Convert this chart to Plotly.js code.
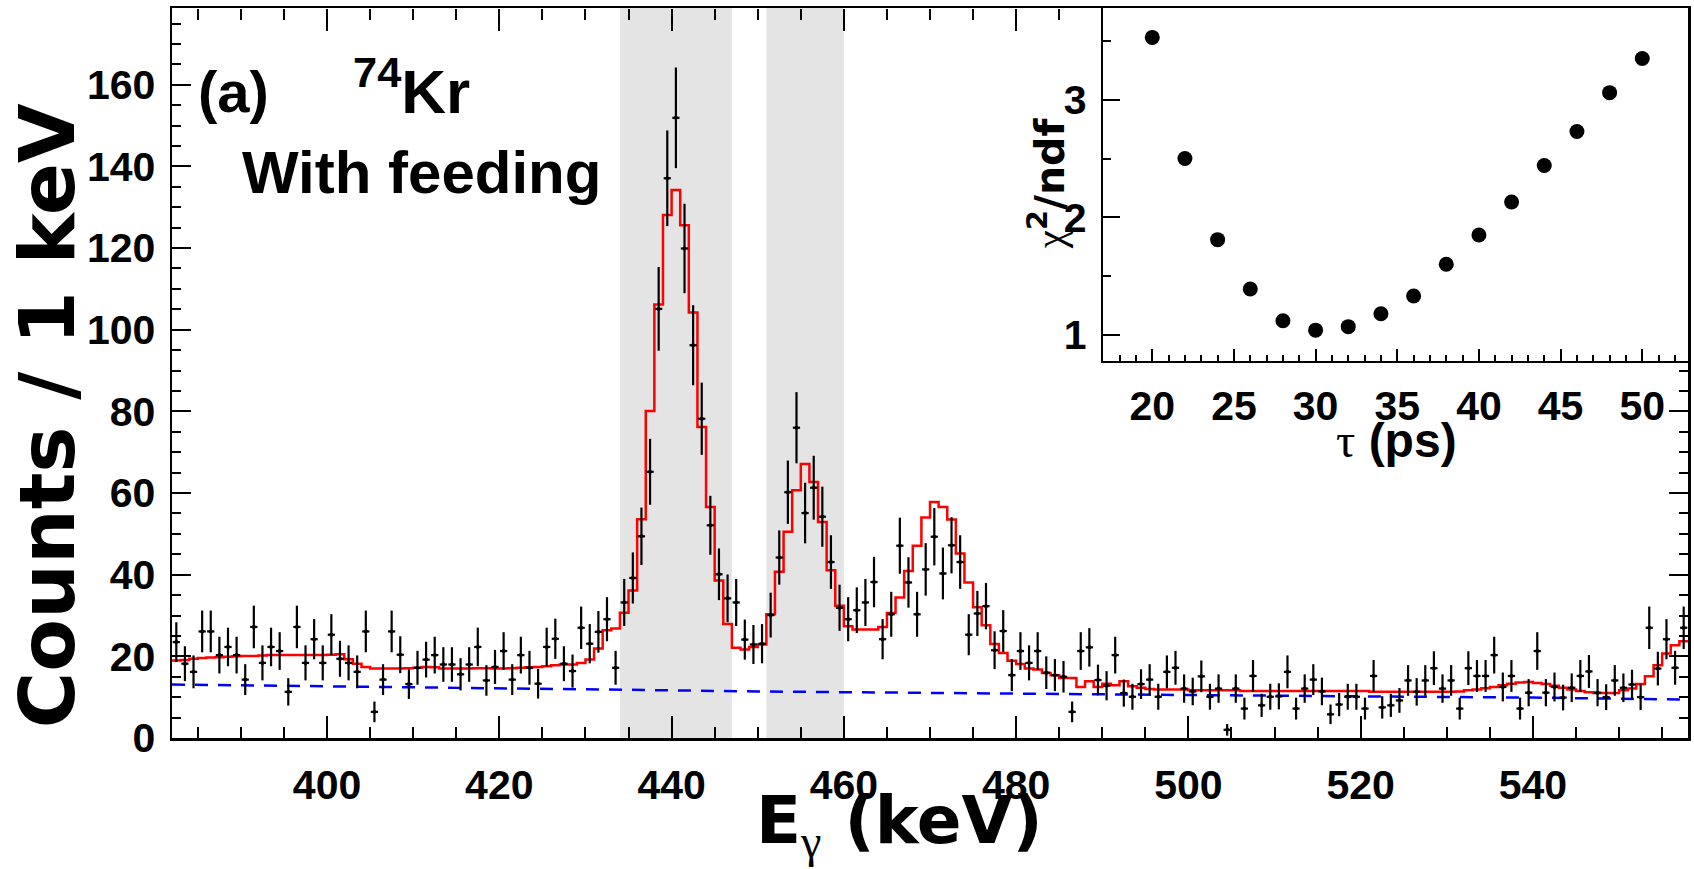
<!DOCTYPE html>
<html>
<head>
<meta charset="utf-8">
<script src="https://cdn.plot.ly/plotly-3.0.1.min.js"></script>
<style>html,body{margin:0;padding:0;background:#fff;}#chart{width:1694px;height:869px;}</style>
</head>
<body>
<div id="chart"></div>
<script>
// ---- Data ----
const energy = [
 382.5,383.5,384.5,385.5,386.5,387.5,388.5,389.5,390.5,391.5,
 392.5,393.5,394.5,395.5,396.5,397.5,398.5,399.5,400.5,401.5,
 402.5,403.5,404.5,405.5,406.5,407.5,408.5,409.5,410.5,411.5,
 412.5,413.5,414.5,415.5,416.5,417.5,418.5,419.5,420.5,421.5,
 422.5,423.5,424.5,425.5,426.5,427.5,428.5,429.5,430.5,431.5,
 432.5,433.5,434.5,435.5,436.5,437.5,438.5,439.5,440.5,441.5,
 442.5,443.5,444.5,445.5,446.5,447.5,448.5,449.5,450.5,451.5,
 452.5,453.5,454.5,455.5,456.5,457.5,458.5,459.5,460.5,461.5,
 462.5,463.5,464.5,465.5,466.5,467.5,468.5,469.5,470.5,471.5,
 472.5,473.5,474.5,475.5,476.5,477.5,478.5,479.5,480.5,481.5,
 482.5,483.5,484.5,485.5,486.5,487.5,488.5,489.5,490.5,491.5,
 492.5,493.5,494.5,495.5,496.5,497.5,498.5,499.5,500.5,501.5,
 502.5,503.5,504.5,505.5,506.5,507.5,508.5,509.5,510.5,511.5,
 512.5,513.5,514.5,515.5,516.5,517.5,518.5,519.5,520.5,521.5,
 522.5,523.5,524.5,525.5,526.5,527.5,528.5,529.5,530.5,531.5,
 532.5,533.5,534.5,535.5,536.5,537.5,538.5,539.5,540.5,541.5,
 542.5,543.5,544.5,545.5,546.5,547.5,548.5,549.5,550.5,551.5,
 552.5,553.5,554.5,555.5,556.5,557.5
];
const counts = [
 23.5,18.2,16.2,26.1,26.1,20.3,22.3,20.3,14.3,27.2,
 18.4,22.3,21.3,11.3,27.2,18.4,24.2,18.4,25.3,19.4,
 18.4,16.2,26.1,6.4,14.3,26.1,20.4,13.2,17.2,19.2,
 20.3,18.0,18.0,15.6,18.0,22.3,14.1,17.4,21.3,14.3,
 20.3,17.2,13.3,22.3,24.3,18.2,16.4,27.0,23.1,26.0,
 29.1,17.2,33.2,39.2,49.4,65.2,105.1,137.1,151.9,119.9,
 96.2,78.2,52.1,40.1,34.2,33.2,24.1,22.9,23.1,30.1,
 44.2,60.2,76.0,55.1,61.3,54.2,43.1,31.9,29.1,31.3,
 33.2,38.2,24.2,30.3,47.1,38.1,30.3,41.3,49.3,40.3,
 47.2,43.1,25.3,30.5,32.3,21.5,26.2,15.4,21.3,18.4,
 21.3,16.0,15.4,15.0,6.4,21.3,22.2,14.2,12.8,20.3,
 11.0,10.1,13.2,14.3,10.1,16.2,17.2,12.1,11.4,15.1,
 10.1,12.1,2.0,12.1,7.2,15.2,8.0,10.1,10.2,16.2,
 7.2,12.1,14.3,11.4,5.8,8.2,10.1,10.1,7.2,15.2,
 7.5,8.0,9.2,14.1,11.3,14.1,17.1,12.1,14.1,7.2,
 17.1,15.2,15.2,20.3,12.5,15.2,7.2,11.1,21.3,11.1,
 12.5,9.9,12.3,15.2,16.3,11.1,10.0,14.1,12.3,13.1,
 10.0,27.0,17.0,24.2,17.2,27.0
];
// fit histogram, one value per 1 keV bin (same bins as energy)
const fitValues = [
 19.0,19.1,19.4,19.6,19.7,19.8,19.9,20.0,20.1,20.1,
 20.2,20.3,20.3,20.3,20.3,20.3,20.3,20.3,20.4,20.5,
 19.3,18.2,17.4,17.0,17.0,17.0,17.0,17.1,17.2,17.4,
 17.3,17.0,17.0,17.0,17.0,17.1,17.1,17.0,17.0,17.1,
 17.2,17.3,17.4,17.6,17.8,18.0,18.0,18.4,19.2,21.9,
 26.4,26.8,30.7,36.1,53.6,80.1,106.2,128.1,134.2,125.6,
 104.2,76.2,56.6,38.6,27.9,22.1,21.7,22.3,22.9,30.3,
 40.7,50.5,60.7,67.1,62.7,52.9,41.1,32.4,27.4,26.6,
 26.6,26.6,27.2,30.6,34.4,40.9,47.1,54.0,57.8,56.6,
 53.5,45.2,38.1,32.0,27.6,23.0,20.8,18.9,18.1,17.0,
 16.8,15.9,15.4,14.7,14.7,12.5,13.9,12.5,13.3,12.9,
 13.9,12.7,12.3,12.0,11.9,11.9,11.9,11.9,11.7,11.7,
 11.7,11.7,11.7,11.7,11.5,11.5,11.5,11.5,11.5,11.5,
 11.5,11.5,11.5,11.5,11.5,11.5,11.5,11.5,11.5,11.3,
 11.3,11.3,11.3,11.3,11.3,11.3,11.3,11.3,11.3,11.4,
 11.7,11.9,12.2,12.5,12.9,13.3,13.6,13.7,13.5,13.2,
 12.8,12.3,11.9,11.5,11.2,11.0,11.0,11.0,11.7,12.1,
 13.2,15.1,17.8,20.7,22.7,23.7
];
const bgEnergy = [382, 400, 415, 435, 450, 465, 490, 520, 540, 558];
const bgValues = [13.1, 12.7, 12.3, 11.8, 11.4, 11.1, 10.7, 10.2, 9.9, 9.4];
const gateLow = [434, 451];
const gateHigh = [447, 460];
const tau = [20, 22, 24, 26, 28, 30, 32, 34, 36, 38, 40, 42, 44, 46, 48, 50];
const chi2ndf = [3.53, 2.50, 1.81, 1.39, 1.12, 1.04, 1.07, 1.18, 1.33, 1.60, 1.85, 2.13, 2.44, 2.73, 3.06, 3.35];

// ---- Build traces ----
const binW = energy[1] - energy[0];
const fitX = energy.map(e => e - binW / 2).concat([energy[energy.length - 1] + binW / 2]);
const fitY = fitValues.concat([fitValues[fitValues.length - 1]]);

const FONT = 'Liberation Sans, Arial, Helvetica, sans-serif';
const WIDE = 'DejaVu Sans, Liberation Sans, sans-serif';
const tickFont = {family: FONT, size: 41, color: '#000', weight: 'bold'};

const traces = [
  {x: bgEnergy, y: bgValues, mode: 'lines', xaxis: 'x', yaxis: 'y',
   line: {color: '#0000ff', width: 2.5, dash: '13px,10px'}, hoverinfo: 'skip'},
  {x: fitX, y: fitY, mode: 'lines', xaxis: 'x', yaxis: 'y',
   line: {color: '#ff0000', width: 2.5, shape: 'hv'}, hoverinfo: 'skip'},
  {x: energy, y: counts, mode: 'markers', xaxis: 'x', yaxis: 'y',
   marker: {color: '#000', size: 4, symbol: 'circle'},
   error_y: {type: 'sqrt', visible: true, color: '#000', thickness: 2.2, width: 0},
   error_x: {type: 'constant', value: 0.42, visible: true, color: '#000', thickness: 2.2, width: 0}},
  {x: tau, y: chi2ndf, mode: 'markers', xaxis: 'x2', yaxis: 'y2',
   marker: {color: '#000', size: 15, symbol: 'circle'}},
  {x: [null], y: [null], mode: 'markers', xaxis: 'x3', yaxis: 'y3', hoverinfo: 'skip'}
];

const xMin = 382, xMax = 558, yMax = 178.8;
const insetX0 = 0.6143, insetY0 = 0.5168;

const shapes = gateLow.map((lo, i) => ({
  type: 'rect', xref: 'x', yref: 'paper', x0: lo, x1: gateHigh[i], y0: 0, y1: 1,
  fillcolor: '#e4e4e4', line: {width: 0}, layer: 'below'
}));
shapes.push({type: 'rect', xref: 'paper', yref: 'paper', x0: insetX0, x1: 1, y0: insetY0, y1: 1,
  fillcolor: '#fff', line: {width: 0}, layer: 'below'});

const layout = {
  width: 1694, height: 869,
  margin: {l: 172, r: 6, t: 8, b: 131, pad: 0},
  paper_bgcolor: '#fff', plot_bgcolor: 'rgba(0,0,0,0)',
  showlegend: false,
  xaxis: {domain: [0, 1], range: [xMin, xMax], tickmode: 'linear', tick0: 0, dtick: 20,
    ticks: 'inside', ticklen: 22, tickwidth: 2, tickcolor: '#000',
    minor: {dtick: 5, tick0: 0, ticks: 'inside', ticklen: 11, tickwidth: 2, tickcolor: '#000', showgrid: false},
    showline: true, mirror: true, linewidth: 2.5, linecolor: '#000',
    showgrid: false, zeroline: false, tickfont: tickFont, ticklabelstandoff: 9},
  yaxis: {domain: [0, 1], range: [0, yMax], tickmode: 'linear', tick0: 0, dtick: 20,
    ticks: 'inside', ticklen: 19, tickwidth: 2, tickcolor: '#000',
    minor: {dtick: 5, tick0: 0, ticks: 'inside', ticklen: 9, tickwidth: 2, tickcolor: '#000', showgrid: false},
    showline: true, mirror: true, linewidth: 2.5, linecolor: '#000',
    showgrid: false, zeroline: false, tickfont: tickFont, ticklabelstandoff: 6},
  // top / right mirror ticks of the main frame, only where the inset does not cover them
  xaxis3: {domain: [0, insetX0], range: [xMin, xMin + insetX0 * (xMax - xMin)], anchor: 'free', position: 1,
    side: 'top', tickmode: 'linear', tick0: 0, dtick: 20, ticks: 'inside', ticklen: 22, tickwidth: 2, tickcolor: '#000',
    minor: {dtick: 5, tick0: 0, ticks: 'inside', ticklen: 11, tickwidth: 2, tickcolor: '#000', showgrid: false},
    showticklabels: false, showline: false, showgrid: false, zeroline: false},
  yaxis3: {domain: [0, insetY0], range: [0, insetY0 * yMax], anchor: 'free', position: 1,
    side: 'right', tickmode: 'linear', tick0: 0, dtick: 20, ticks: 'inside', ticklen: 19, tickwidth: 2, tickcolor: '#000',
    minor: {dtick: 5, tick0: 0, ticks: 'inside', ticklen: 9, tickwidth: 2, tickcolor: '#000', showgrid: false},
    showticklabels: false, showline: false, showgrid: false, zeroline: false},
  xaxis2: {domain: [insetX0, 1], range: [17, 52.8], anchor: 'y2', tickmode: 'linear', tick0: 0, dtick: 5,
    ticks: 'inside', ticklen: 12, tickwidth: 2, tickcolor: '#000',
    minor: {dtick: 1, tick0: 0, ticks: 'inside', ticklen: 6, tickwidth: 2, tickcolor: '#000', showgrid: false},
    showline: true, mirror: true, linewidth: 2.5, linecolor: '#000',
    showgrid: false, zeroline: false, tickfont: tickFont, ticklabelstandoff: 8},
  yaxis2: {domain: [insetY0, 1], range: [0.78, 3.78], anchor: 'x2', tickmode: 'linear', tick0: 0, dtick: 1,
    ticks: 'inside', ticklen: 17, tickwidth: 2, tickcolor: '#000',
    minor: {dtick: 0.5, tick0: 0, ticks: 'inside', ticklen: 8, tickwidth: 2, tickcolor: '#000', showgrid: false},
    showline: true, mirror: true, linewidth: 2.5, linecolor: '#000',
    showgrid: false, zeroline: false, tickfont: tickFont, ticklabelstandoff: 6},
  shapes: shapes,
  annotations: [
    {xref: 'paper', yref: 'paper', x: -0.0825, y: 0.442, xanchor: 'center', yanchor: 'middle', textangle: -90,
     text: 'Counts / 1 keV', showarrow: false, font: {family: WIDE, size: 77, color: '#000', weight: 'bold'}},
    {xref: 'paper', yref: 'paper', x: 0.480, y: -0.118, xanchor: 'center', yanchor: 'middle',
     text: 'E<sub><span style="font-family:Liberation Serif;font-weight:normal">γ</span></sub> (keV)', showarrow: false,
     font: {family: WIDE, size: 66, color: '#000', weight: 'bold'}},
    {xref: 'paper', yref: 'paper', x: 0.0158, y: 0.885, xanchor: 'left', yanchor: 'middle',
     text: '(a)', showarrow: false, font: {family: FONT, size: 58, color: '#000', weight: 'bold'}},
    {xref: 'paper', yref: 'paper', x: 0.118, y: 0.892, xanchor: 'left', yanchor: 'middle',
     text: '<sup>74</sup>Kr', showarrow: false, font: {family: FONT, size: 62, color: '#000', weight: 'bold'}},
    {xref: 'paper', yref: 'paper', x: 0.0449, y: 0.774, xanchor: 'left', yanchor: 'middle',
     text: 'With feeding', showarrow: false, font: {family: FONT, size: 60, color: '#000', weight: 'bold'}},
    {xref: 'paper', yref: 'paper', x: 0.5772, y: 0.760, xanchor: 'center', yanchor: 'middle', textangle: -90,
     text: '<span style="font-family:Liberation Serif;font-weight:normal">χ</span><sup>2</sup>/ndf', showarrow: false,
     font: {family: WIDE, size: 41, color: '#000', weight: 'bold'}},
    {xref: 'paper', yref: 'paper', x: 0.8074, y: 0.408, xanchor: 'center', yanchor: 'middle',
     text: '<span style="font-family:Liberation Serif;font-weight:normal">τ</span> (ps)', showarrow: false,
     font: {family: FONT, size: 48, color: '#000', weight: 'bold'}}
  ]
};

Plotly.newPlot('chart', traces, layout, {staticPlot: true, displayModeBar: false});
</script>
</body>
</html>
